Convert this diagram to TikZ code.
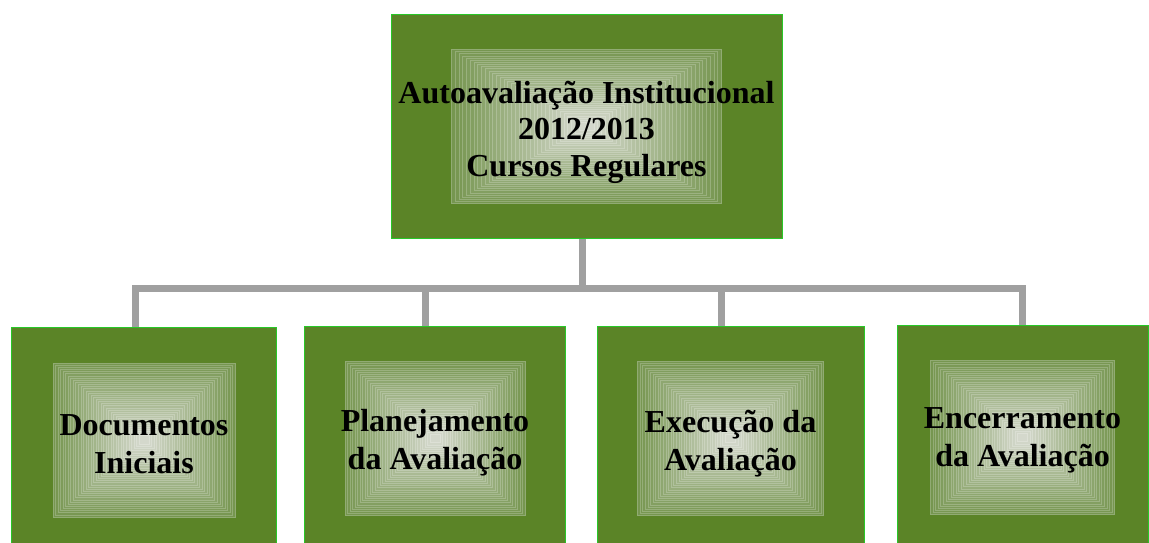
\documentclass[tikz,border=0pt]{standalone}
\usepackage{fontspec}
\setmainfont{Liberation Serif}
\usetikzlibrary{calc}
\definecolor{boxgreen}{RGB}{91,132,39}
\definecolor{rimgreen}{RGB}{40,200,40}
\definecolor{glowout}{RGB}{118,150,80}
\definecolor{glowin}{RGB}{212,216,204}
\definecolor{busgray}{RGB}{160,160,160}
\tikzset{
	glow/.style 2 args={path picture={
		\foreach \i in {0,...,34}{
			\pgfmathtruncatemacro{\pc}{100*\i/34}
			\pgfmathsetmacro{\gx}{#1*(1-\i/36)}
			\pgfmathsetmacro{\gy}{#2*(1-\i/36)}
			\filldraw[fill=glowin!\pc!glowout, draw=glowin!\pc!glowout!80!white, line width=0.6pt]
				($(path picture bounding box.center)+(-\gx,-\gy)$) rectangle ($(path picture bounding box.center)+(\gx,\gy)$);
		}}},
	stage/.style={draw=rimgreen, line width=1pt, fill=boxgreen, minimum height=225pt, inner sep=0pt},
	stagetext/.style={inner sep=0pt, align=center, font=\bfseries\fontsize{32}{38}\selectfont},
	bus/.style={draw=busgray, line width=7pt}
}

\begin{document}
\begin{tikzpicture}[x=1pt,y=-1pt]
	%%%%% START %%%%%
	\useasboundingbox (0,0) rectangle (1149,543);
	
	\node[stage, minimum width=391pt, minimum height=223pt, glow={135}{77}] (top) at (586.5,126.5) {};
	\node[stagetext, font=\bfseries\fontsize{32}{36.5}\selectfont] (t0) at ($(top.center)+(0,5.5)$)
		{Autoavaliação Institucional\\2012/2013\\Cursos Regulares};
	
	\node[stage, minimum width=265pt, glow={91}{77}] (b1) at (144,440) {};
	\node[stage, minimum width=261pt, glow={90}{77}] (b2) at (435,438.5) {};
	\node[stage, minimum width=267pt, glow={93}{77}] (b3) at (730.5,438.5) {};
	\node[stage, minimum width=251pt, glow={92}{77}] (b4) at (1022.5,437.5) {};
	
	\node[stagetext] (t1) at ($(b1.center)+(0,4.5)$) {Documentos\\Iniciais};
	\node[stagetext] (t2) at ($(b2.center)+(0,4.5)$) {Planejamento\\da Avaliação};
	\node[stagetext] (t3) at ($(b3.center)+(0,5)$) {Execução da\\Avaliação};
	\node[stagetext] (t4) at ($(b4.center)+(0,3)$) {Encerramento\\da Avaliação};
	
	% bus
	\coordinate (hub) at (582,288);
	\coordinate (j1) at (135,288);
	\coordinate (j2) at (425,288);
	\coordinate (j3) at (721,288);
	\coordinate (j4) at (1022,288);
	
	\draw[bus] (top.south -| hub) -- (hub);
	\draw[bus] (j1 |- b1.north) -- (j1) -- (j4) -- (j4 |- b4.north);
	\draw[bus] (j2) -- (j2 |- b2.north);
	\draw[bus] (j3) -- (j3 |- b3.north);
	
	%%%%% END %%%%%
\end{tikzpicture}
\end{document}
